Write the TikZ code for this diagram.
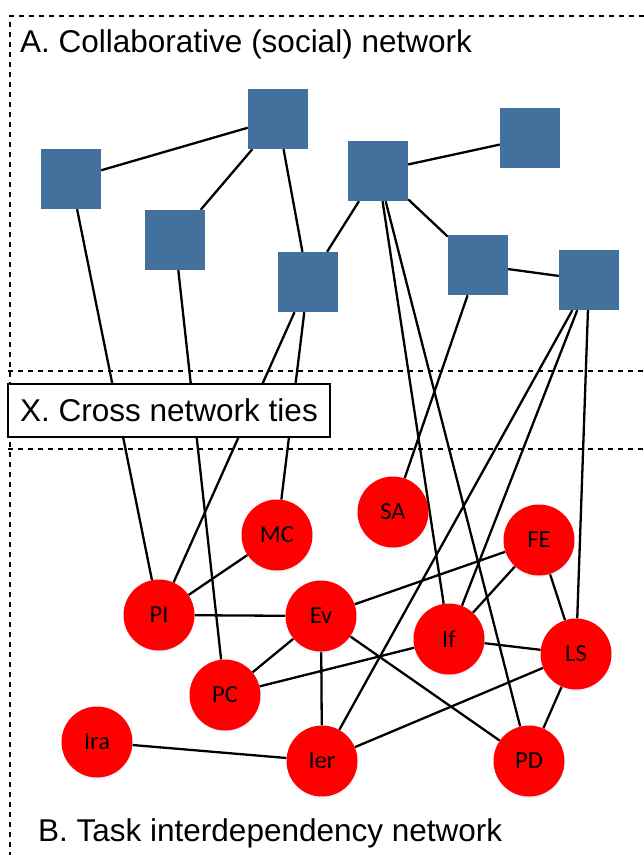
\documentclass[tikz,border=0pt]{standalone}
\usepackage{fontspec}
\setmainfont{Liberation Sans}
\newfontfamily\labelfont{Carlito}
\usetikzlibrary{shadows,backgrounds}
\definecolor{squareblue}{RGB}{65,113,156}
\definecolor{taskred}{RGB}{255,0,0}
\definecolor{glow}{RGB}{190,205,235}

\begin{document}
\begin{tikzpicture}[x=1pt,y=-1pt,
  actor/.style={rectangle, fill=squareblue, minimum size=60pt, inner sep=0pt},
  task/.style={circle, fill=taskred, minimum size=71pt, inner sep=0pt,
    font=\labelfont\fontsize{24.5}{28}\selectfont,
    circular drop shadow={shadow xshift=0pt, shadow yshift=-2pt,
      shadow scale=1.02, fill=glow, opacity=0.6}},
  tie/.style={line width=2.3pt},
  region/.style={line width=2.2pt, dash pattern=on 5pt off 5pt},
  heading/.style={font=\fontsize{31.5}{37}\selectfont, inner sep=0pt}
]
\useasboundingbox (0,0) rectangle (644,855);

% collaborative (social) network
\node[actor] (a1) at (71,179) {};
\node[actor] (a2) at (278,119) {};
\node[actor] (a3) at (175,240) {};
\node[actor] (a4) at (308,282) {};
\node[actor] (a5) at (378,171) {};
\node[actor] (a6) at (530,138) {};
\node[actor] (a7) at (478,265) {};
\node[actor] (a8) at (589,280) {};

% task interdependency network
\node[task] (mc)  at (277,535) {MC};
\node[task] (pi)  at (159,615) {PI};
\node[task] (ev)  at (321,616) {Ev};
\node[task] (pc)  at (225,695) {PC};
\node[task] (ier) at (322,761) {Ier};
\node[task] (ira) at (97,742)  {Ira};
\node[task] (sa)  at (393,512) {SA};
\node[task] (fe)  at (539,540) {FE};
\node[task] (if)  at (449,639) {If};
\node[task] (ls)  at (576,654) {LS};
\node[task] (pd)  at (529,761) {PD};

% section headings
\node[heading, anchor=base west] (titleA) at (20,52) {A. Collaborative (social) network};
\node[heading, anchor=base west] (titleB) at (38,841) {B. Task interdependency network};
\node[draw, fill=white, line width=1.5pt, minimum width=322pt, minimum height=53pt,
      inner sep=0pt, font=\fontsize{31.5}{37}\selectfont] (xbox) at (169,410.5) {X. Cross network ties};

\begin{pgfonlayer}{background}
  % region borders
  \draw[region] (644,16) -- (10,16) -- (10,855);
  \draw[region] (8,371) -- (644,371);
  \draw[region] (8,449) -- (644,449);

  % social ties
  \draw[tie] (a1) -- (a2);
  \draw[tie] (a2) -- (a3);
  \draw[tie] (a2) -- (a4);
  \draw[tie] (a4) -- (a5);
  \draw[tie] (a5) -- (a6);
  \draw[tie] (a5) -- (a7);
  \draw[tie] (a7) -- (a8);

  % cross network ties
  \draw[tie] (a1) -- (pi);
  \draw[tie] (a3) -- (pc);
  \draw[tie] (a4) -- (pi);
  \draw[tie] (a4) -- (mc);
  \draw[tie] (a5) -- (if);
  \draw[tie] (a5) -- (pd);
  \draw[tie] (a7) -- (sa);
  \draw[tie] (a8) -- (ier);
  \draw[tie] (a8) -- (if);
  \draw[tie] (a8) -- (ls);

  % task dependencies
  \draw[tie] (pi) -- (mc);
  \draw[tie] (pi) -- (ev);
  \draw[tie] (ev) -- (pc);
  \draw[tie] (ev) -- (ier);
  \draw[tie] (ev) -- (fe);
  \draw[tie] (ev) -- (pd);
  \draw[tie] (pc) -- (if);
  \draw[tie] (if) -- (fe);
  \draw[tie] (if) -- (ls);
  \draw[tie] (fe) -- (ls);
  \draw[tie] (ls) -- (pd);
  \draw[tie] (ls) -- (ier);
  \draw[tie] (ira) -- (ier);
\end{pgfonlayer}
\end{tikzpicture}
\end{document}
